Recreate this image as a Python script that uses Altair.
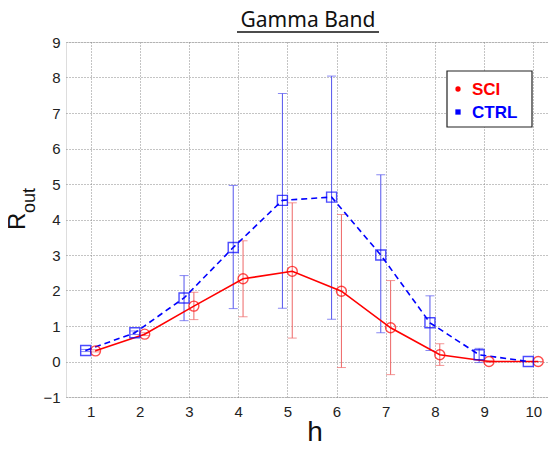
import altair as alt
import pandas as pd

h = [1, 2, 3, 4, 5, 6, 7, 8, 9, 10]
sci_mean = [0.30, 0.77, 1.56, 2.33, 2.54, 1.98, 0.95, 0.19, 0.00, 0.00]
sci_lo = [0.27, 0.73, 1.18, 1.26, 0.66, -0.17, -0.37, -0.11, -0.02, 0.00]
sci_hi = [0.33, 0.81, 1.95, 3.40, 4.47, 4.14, 2.28, 0.50, 0.02, 0.00]
ctrl_mean = [0.31, 0.81, 1.79, 3.21, 4.54, 4.63, 3.00, 1.09, 0.19, 0.00]
ctrl_lo = [0.28, 0.76, 1.15, 1.49, 1.50, 1.19, 0.81, 0.31, -0.03, 0.00]
ctrl_hi = [0.34, 0.86, 2.42, 4.96, 7.55, 8.04, 5.26, 1.85, 0.37, 0.00]
y_ticks = [-1, 0, 1, 2, 3, 4, 5, 6, 7, 8, 9]

series = ["SCI", "CTRL"]
offsets = {"SCI": 0.1, "CTRL": -0.1}
colors = ["#ff0000", "#0000ff"]
err_colors = {"SCI": "#ee6666", "CTRL": "#5555ee"}

rows = []
for name, m, lo, hi in [("SCI", sci_mean, sci_lo, sci_hi), ("CTRL", ctrl_mean, ctrl_lo, ctrl_hi)]:
    for i, hv in enumerate(h):
        rows.append({"series": name, "h": hv, "xp": hv + offsets[name],
                     "mean": m[i], "lo": lo[i], "hi": hi[i]})
df = pd.DataFrame(rows)

W, H = 482, 355
xs = alt.Scale(domain=[0.5, 10.3], nice=False, zero=False)
ys = alt.Scale(domain=[-1, 9], nice=False, zero=False)

xaxis = alt.Axis(values=h, grid=True, gridDash=[1, 2], gridColor="#888", ticks=False,
                 domain=False, labelFontSize=15, labelFont="Liberation Sans",
                 labelColor="#222", labelPadding=7, labelOverlap=False, title=None)
yaxis = alt.Axis(values=y_ticks, grid=True, gridDash=[1, 2], gridColor="#888",
                 ticks=False, domain=False, labelFontSize=15, labelFont="Liberation Sans",
                 labelColor="#222", labelPadding=6, labelOverlap=False, title=None)


def X():
    return alt.X("xp:Q", scale=xs, axis=xaxis)


def Y(field):
    return alt.Y(field, scale=ys, axis=yaxis)


base = alt.Chart(df)

layers = []
for name in series:
    d = base.transform_filter(alt.datum.series == name)
    c = err_colors[name]
    layers.append(d.mark_rule(color=c, strokeWidth=1).encode(x=X(), y=Y("lo:Q"), y2="hi:Q"))
    layers.append(d.mark_tick(color=c, thickness=1, size=9, orient="horizontal").encode(
        x=X(), y=Y("lo:Q")))
    layers.append(d.mark_tick(color=c, thickness=1, size=9, orient="horizontal").encode(
        x=X(), y=Y("hi:Q")))

red_line = base.transform_filter(alt.datum.series == "SCI").mark_line(
    color="#ff0000", strokeWidth=1.6).encode(x=X(), y=Y("mean:Q"))
blue_line = base.transform_filter(alt.datum.series == "CTRL").mark_line(
    color="#0000ff", strokeWidth=1.6, strokeDash=[6, 4]).encode(x=X(), y=Y("mean:Q"))

points = base.mark_point(filled=False, size=100, strokeWidth=1.4).encode(
    x=X(), y=Y("mean:Q"),
    color=alt.Color("series:N", scale=alt.Scale(domain=series, range=colors), legend=None),
    shape=alt.Shape("series:N", scale=alt.Scale(domain=series, range=["circle", "square"]), legend=None),
)

deco = pd.DataFrame([{"k": 0}])
dbase = alt.Chart(deco)

# legend (drawn by hand so label colours match the series)
leg_box = dbase.mark_rect(fill="white", stroke="#222", strokeWidth=1.2).encode(
    x=alt.value(381), x2=alt.value(466), y=alt.value(29), y2=alt.value(85))
leg_sci_sym = dbase.mark_point(shape="circle", filled=True, color="#ff0000", size=28, opacity=1).encode(
    x=alt.value(392), y=alt.value(47))
leg_ctrl_sym = dbase.mark_point(shape="square", filled=True, color="#0000ff", size=28, opacity=1).encode(
    x=alt.value(392), y=alt.value(70))
leg_sci_txt = dbase.mark_text(text="SCI", fontSize=17, font="Liberation Sans", fontWeight="bold",
                              color="#ff0000", align="left", baseline="alphabetic").encode(
    x=alt.value(406), y=alt.value(53))
leg_ctrl_txt = dbase.mark_text(text="CTRL", fontSize=17, font="Liberation Sans", fontWeight="bold",
                               color="#0000ff", align="left", baseline="alphabetic").encode(
    x=alt.value(406), y=alt.value(76))

title = dbase.mark_text(text="Gamma Band", fontSize=21, font="Noto Sans", color="#111",
                        align="center", baseline="alphabetic").encode(
    x=alt.value(242), y=alt.value(-15))
underline = dbase.mark_rule(color="#111", strokeWidth=1.5).encode(
    x=alt.value(171), x2=alt.value(313), y=alt.value(-10))
r_lab = dbase.mark_text(text="R", fontSize=24, font="Liberation Sans", color="#111",
                        align="left", baseline="alphabetic", angle=270).encode(
    x=alt.value(-41), y=alt.value(188))
out_lab = dbase.mark_text(text="out", fontSize=18, font="Liberation Sans", color="#111",
                          align="left", baseline="alphabetic", angle=270).encode(
    x=alt.value(-31), y=alt.value(171))
h_lab = dbase.mark_text(text="h", fontSize=28, font="Liberation Sans", color="#111",
                        align="center", baseline="alphabetic").encode(
    x=alt.value(249), y=alt.value(399))

chart = alt.layer(*layers, red_line, blue_line, points,
                  leg_box, leg_sci_sym, leg_ctrl_sym, leg_sci_txt, leg_ctrl_txt,
                  title, underline, r_lab, out_lab, h_lab).properties(
    width=W, height=H,
    autosize=alt.AutoSizeParams(type="none"),
    padding={"left": 58, "top": 34, "right": 0, "bottom": 45},
).configure_view(stroke="#444", strokeWidth=1.2).configure(background="white")

chart.save("out.html", embed_options={"renderer": "svg", "actions": False})
